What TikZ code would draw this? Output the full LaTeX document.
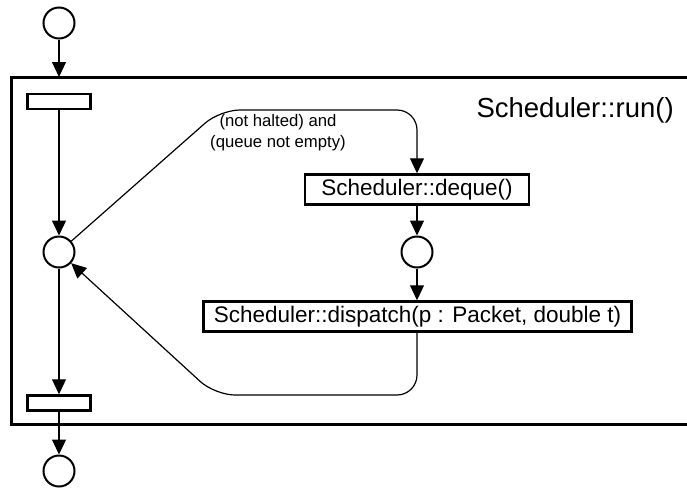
\documentclass[tikz,border=0pt]{standalone}
\usepackage{fontspec}
\setmainfont{Liberation Sans}
\usetikzlibrary{arrows.meta}
\tikzset{
  place/.style={circle, draw, line width=2pt, minimum size=31pt, inner sep=0pt},
  bar/.style={rectangle, draw, line width=2.5pt, minimum width=63pt, minimum height=15pt, inner sep=0pt},
  actbox/.style={rectangle, draw, line width=2.5pt, minimum height=30pt, inner sep=0pt, font=\fontsize{22.5}{26}\selectfont},
  arr/.style={line width=1.2pt, -{Triangle[length=15pt,width=14pt]}},
  frame/.style={line width=3pt},
}
\begin{document}
\begin{tikzpicture}[x=1pt,y=-1pt]
\useasboundingbox (0,0) rectangle (687,491);
% frame (open to the right)
\coordinate (ftr) at (687,77);
\coordinate (ftl) at (11,77);
\coordinate (fbl) at (11,424);
\coordinate (fbr) at (687,424);
\draw[frame] (ftr) -- (ftl) -- (fbl) -- (fbr);
\node[anchor=base west, font=\fontsize{27.5}{30}\selectfont] (run) at (473,117) {Scheduler::run()};
% left column
\node[place] (tc) at (59,23) {};
\node[bar] (tb) at (59,101.5) {};
\node[place] (mc) at (59,252) {};
\node[bar] (bb) at (59,403) {};
\node[place] (bc) at (59,471) {};
\draw[arr] (tc) -- (tc |- ftl);
\draw[arr] (tb) -- (mc);
\draw[arr] (mc) -- (bb);
\draw[arr] (bb) -- (bc);
% right column
\node[actbox, minimum width=224pt] (dq) at (417,189.5) {Scheduler::deque()};
\node[place] (sc) at (417,252) {};
\node[actbox, minimum width=428pt] (dp) at (417.5,316.5) {Scheduler::dispatch(p : Packet, double t)};
\draw[arr] (dq) -- (sc);
\draw[arr] (sc) -- (dp.north -| sc);
% loop
\coordinate (c1) at (220,110);
\coordinate (c2) at (215,395);
\draw[arr, rounded corners=20pt] (mc) -- (c1) -| (dq);
\draw[arr, rounded corners=20pt] (dp.south -| sc) |- (c2) -- (mc);
\node[align=center, font=\fontsize{16.7}{21}\selectfont] (lbl) at (278,133) {(not halted) and\\(queue not empty)};
\end{tikzpicture}
\end{document}
